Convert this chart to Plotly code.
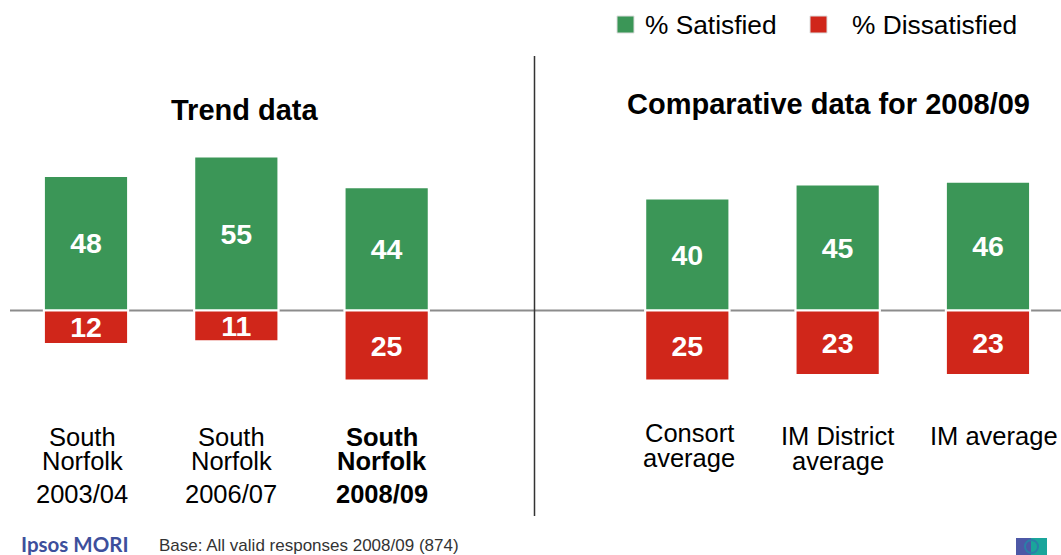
import plotly.graph_objects as go

# ---- data ----
categories = ["South Norfolk 2003/04", "South Norfolk 2006/07", "South Norfolk 2008/09",
              "Consort average", "IM District average", "IM average"]
satisfied = [48, 55, 44, 40, 45, 46]
dissatisfied = [12, 11, 25, 25, 23, 23]
label_lines = [["South", "Norfolk", "2003/04"],
               ["South", "Norfolk", "2006/07"],
               ["South", "Norfolk", "2008/09"],
               ["Consort", "average"],
               ["IM District", "average"],
               ["IM average"]]
bold_labels = [False, False, True, False, False, False]
series_names = ["% Satisfied", "% Dissatisfied"]
titles = ["Trend data", "Comparative data for 2008/09"]
footer_base = "Base: All valid responses 2008/09 (874)"
footer_logo = "Ipsos MORI"

# ---- styles ----
W, H = 1061, 555
GREEN = "#3b9657"
RED = "#d0261a"
FONT = "Liberation Sans, Arial, sans-serif"
GAP = " "
axis_cats = categories[:3] + [GAP] + categories[3:]

def py(px):
    return 1 - px / H

def pxx(px):
    return px / W

fig = go.Figure()
fig.add_trace(go.Bar(
    x=categories, y=satisfied, name=series_names[0],
    marker=dict(color=GREEN, line=dict(color="white", width=2)),
    width=0.56, text=satisfied, textposition="inside", insidetextanchor="middle",
    constraintext="none", textangle=0,
    textfont=dict(family=FONT, size=28.5, color="white", weight="bold"),
    showlegend=False, hoverinfo="skip"))
fig.add_trace(go.Bar(
    x=categories, y=[-v for v in dissatisfied], name=series_names[1],
    marker=dict(color=RED, line=dict(color="white", width=2)),
    width=0.56, text=dissatisfied, textposition="inside", insidetextanchor="middle",
    constraintext="none", textangle=0,
    textfont=dict(family=FONT, size=28.5, color="white", weight="bold"),
    showlegend=False, hoverinfo="skip"))

px_per_unit = 2.8
zero_px = 310.5
x0_px = 86
cat_px = 150.33

annotations = []
shapes = []

# category labels
label_y_px = [[437, 461, 494], [437, 461, 494], [437, 461, 494],
              [433, 458], [436, 461], [436]]
label_xshift = [-4, -5, -5, 2, 0, 6]
for i, lines in enumerate(label_lines):
    idx = axis_cats.index(categories[i])
    for j, line in enumerate(lines):
        annotations.append(dict(
            x=idx, y=py(label_y_px[i][j]), xref="x", yref="paper",
            xshift=label_xshift[i],
            text=f"<b>{line}</b>" if bold_labels[i] else line,
            showarrow=False, xanchor="center", yanchor="middle",
            font=dict(family=FONT, size=25.5, color="black")))

# section titles
annotations.append(dict(x=pxx(245), y=py(110), xref="paper", yref="paper",
                        text=f"<b>{titles[0]}</b>", showarrow=False,
                        xanchor="center", yanchor="middle",
                        font=dict(family=FONT, size=29, color="black")))
annotations.append(dict(x=pxx(828), y=py(104), xref="paper", yref="paper",
                        text=f"<b>{titles[1]}</b>", showarrow=False,
                        xanchor="center", yanchor="middle",
                        font=dict(family=FONT, size=29, color="black")))

# manual legend
leg = [(617, 643, GREEN, series_names[0]), (810, 850, RED, series_names[1])]
for sq_x, tx, col, name in leg:
    shapes.append(dict(type="rect", xref="paper", yref="paper",
                       x0=pxx(sq_x), x1=pxx(sq_x + 17), y0=py(33), y1=py(16),
                       fillcolor=col, line=dict(color="#dddddd", width=1)))
    annotations.append(dict(x=pxx(tx), y=py(25), xref="paper", yref="paper",
                            text=name, showarrow=False, xanchor="left", yanchor="middle",
                            font=dict(family=FONT, size=26.3, color="black")))

# baseline
shapes.append(dict(type="line", xref="paper", yref="y", x0=pxx(10), x1=1, y0=0, y1=0,
                   line=dict(color="#8c8c8c", width=2), layer="below"))
# divider
shapes.append(dict(type="line", xref="paper", yref="paper", x0=pxx(534.5), x1=pxx(534.5),
                   y0=py(56), y1=py(516), line=dict(color="#333333", width=1.5)))

# footer
annotations.append(dict(x=pxx(19), y=py(544), xref="paper", yref="paper",
                        text=f"<b>{footer_logo}</b>", showarrow=False,
                        xanchor="left", yanchor="middle",
                        font=dict(family="Lato, Liberation Sans, sans-serif", size=20.5, color="#3d4f9c")))
annotations.append(dict(x=pxx(157), y=py(545), xref="paper", yref="paper",
                        text=footer_base, showarrow=False,
                        xanchor="left", yanchor="middle",
                        font=dict(family=FONT, size=17, color="#333333")))
# corner icon
shapes.append(dict(type="rect", xref="paper", yref="paper", x0=pxx(1016), x1=pxx(1031),
                   y0=py(555), y1=py(538), fillcolor="#4d58a6", line=dict(width=0)))
shapes.append(dict(type="rect", xref="paper", yref="paper", x0=pxx(1031), x1=pxx(1047),
                   y0=py(555), y1=py(538), fillcolor="#1aa59b", line=dict(width=0)))
shapes.append(dict(type="circle", xref="paper", yref="paper", x0=pxx(1025), x1=pxx(1038),
                   y0=py(553), y1=py(540), fillcolor="rgba(0,0,0,0)",
                   line=dict(color="#2a7fa8", width=2)))

x_lo = -x0_px / cat_px
x_hi = (W - x0_px) / cat_px
y_hi = zero_px / px_per_unit
y_lo = -(H - zero_px) / px_per_unit

fig.update_layout(
    width=W, height=H, margin=dict(l=0, r=0, t=0, b=0),
    paper_bgcolor="white", plot_bgcolor="white",
    barmode="relative", showlegend=False,
    xaxis=dict(type="category", categoryorder="array", categoryarray=axis_cats,
               range=[x_lo, x_hi], visible=False, fixedrange=True),
    yaxis=dict(range=[y_lo, y_hi], visible=False, fixedrange=True),
    annotations=annotations, shapes=shapes,
    font=dict(family=FONT),
)

fig.write_html("out.html", config={"displayModeBar": False},
               post_script="document.body.style.margin='0';document.body.style.overflow='hidden';")
